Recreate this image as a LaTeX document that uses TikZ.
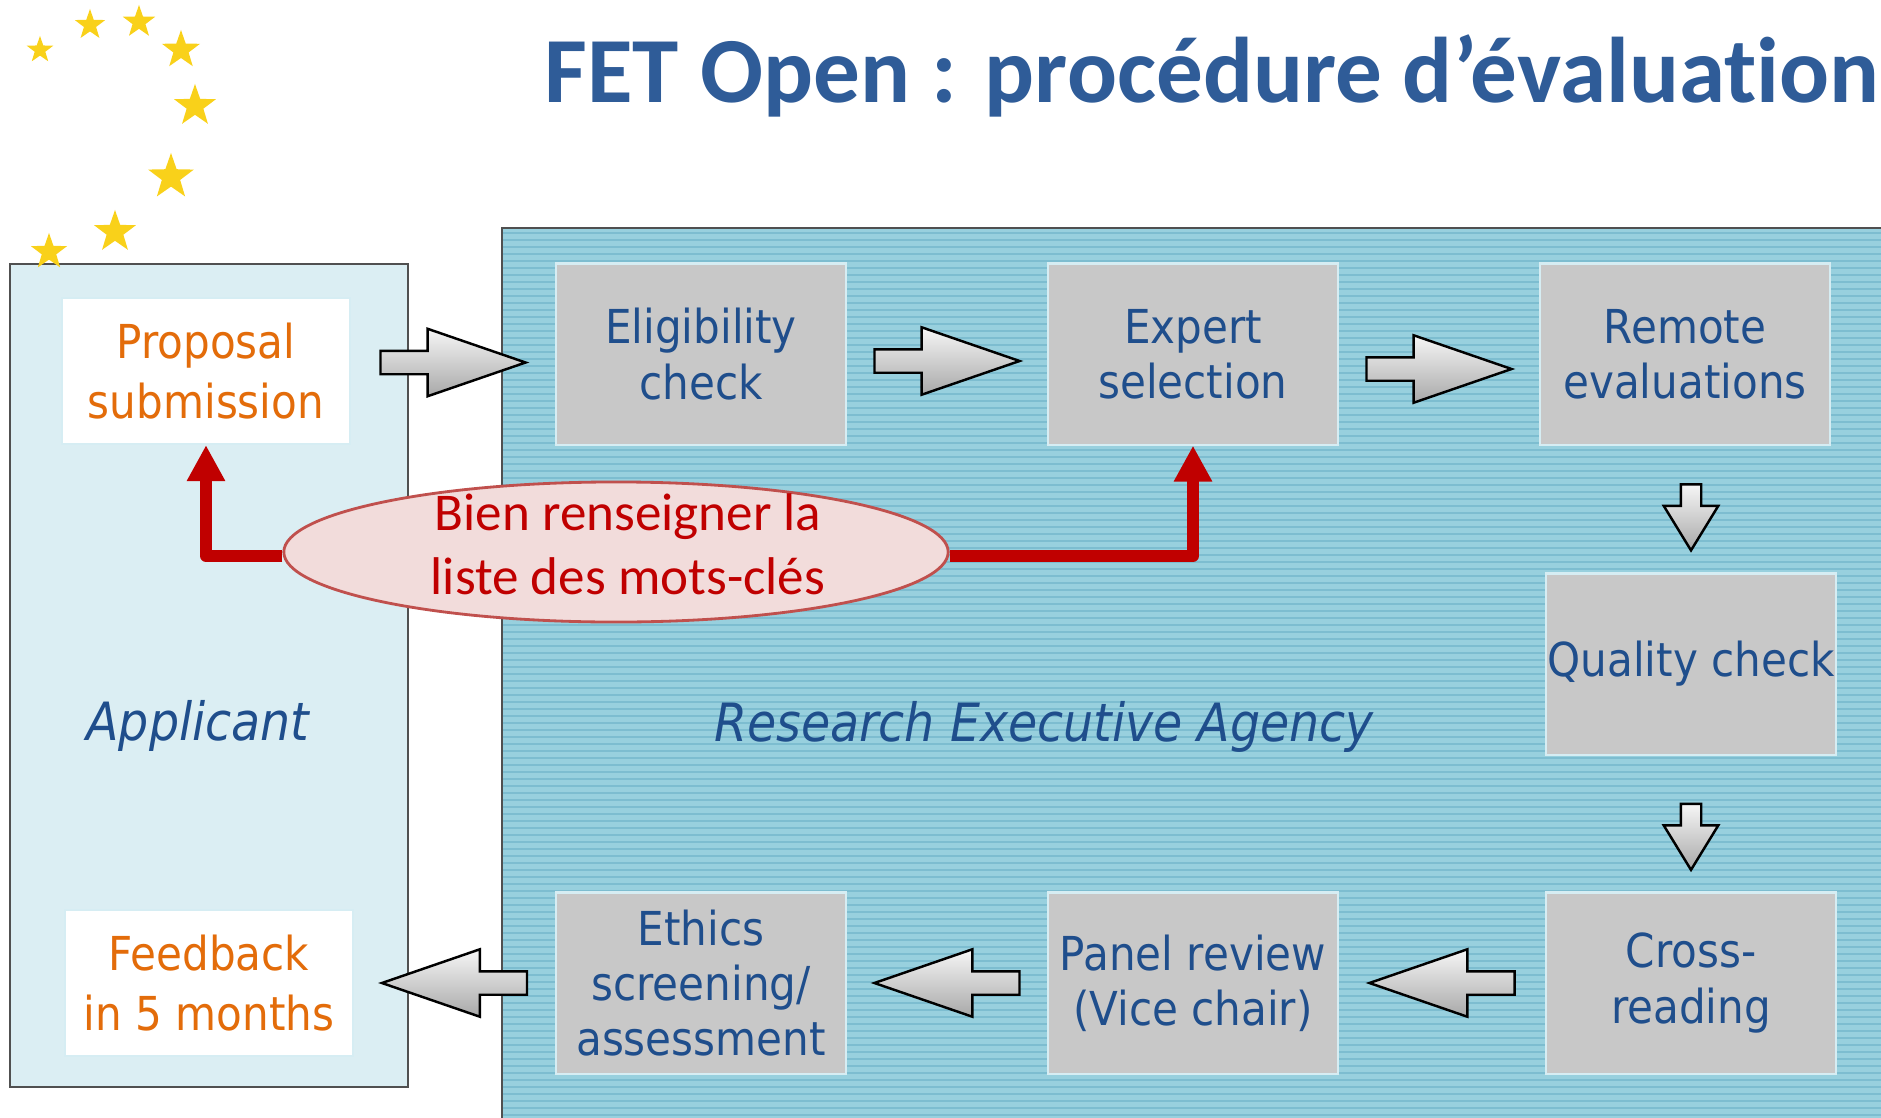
\documentclass[tikz,border=0pt]{standalone}
\usepackage{fontspec}
\usetikzlibrary{shapes.geometric,shapes.arrows,arrows.meta}
\newfontfamily\tahoma[FakeStretch=0.9]{DejaVu Sans}
\newfontfamily\calibri[Ligatures=NoCommon]{Carlito}
\definecolor{titleblue}{HTML}{2F5C98}
\definecolor{boxtext}{HTML}{1F4E8C}
\definecolor{applorange}{HTML}{E36C0A}
\definecolor{boxgray}{HTML}{C8C8C8}
\definecolor{boxedge}{HTML}{D6EDF3}
\definecolor{reafill}{HTML}{98D0DE}
\definecolor{reastripe}{HTML}{7DBDD0}
\definecolor{applfill}{HTML}{DBEEF3}
\definecolor{panelline}{HTML}{505050}
\definecolor{kwfill}{HTML}{F2DCDB}
\definecolor{kwline}{HTML}{C0504D}
\definecolor{kwred}{HTML}{C00000}
\definecolor{eustar}{HTML}{F9D11A}
\definecolor{arrowtop}{HTML}{F6F6F6}
\definecolor{arrowbot}{HTML}{A8A8A8}

\tikzset{
    procbox/.style={draw=boxedge, line width=0.6pt, fill=boxgray, minimum width=2.9cm, minimum height=1.81cm,
        inner sep=0pt, align=center, text=boxtext, font=\tahoma\fontsize{13.3}{15.7}\selectfont},
    applbox/.style={draw=boxedge, line width=0.6pt, fill=white, minimum width=2.88cm, minimum height=1.46cm,
        inner sep=0pt, align=center, text=applorange, font=\tahoma\fontsize{13.3}{17.1}\selectfont},
    blockarrow/.style={single arrow, draw=black, line width=0.7pt, top color=arrowtop, bottom color=arrowbot,
        inner sep=0.105cm, single arrow head extend=0.22cm, single arrow tip angle=38,
        single arrow head indent=0pt, minimum height=1.45cm},
    rarrow/.style={blockarrow, xshift=-0.17cm},
    larrow/.style={blockarrow, shape border rotate=180, xshift=0.17cm},
    darrow/.style={blockarrow, shape border rotate=270, inner sep=0.09cm, single arrow head extend=0.17cm,
        single arrow tip angle=63, minimum height=0.66cm},
    keyarrow/.style={draw=kwred, line width=3.4pt, line join=round, -{Triangle[length=0.36cm, width=0.36cm]}},
    eustarnode/.style={star, star points=5, star point ratio=2.5, fill=eustar, inner sep=0pt},
    sidelabel/.style={text=boxtext, font=\tahoma\itshape\fontsize{15}{18}\selectfont}
}

\begin{document}
\begin{tikzpicture}[x=0.01cm, y=-0.01cm]
    \useasboundingbox (0,0) rectangle (1881,1118);

    \fill[reafill] (502,228) rectangle (1881,1118);
    \foreach \y in {233,240,...,1118}
        \draw[reastripe, line width=0.45pt] (502,\y) -- (1881,\y);
    \draw[panelline, line width=0.6pt] (1881,228) -- (502,228) -- (502,1118);
    \draw[panelline, line width=0.6pt, fill=applfill] (10,264) rectangle (408,1087);

    \node[sidelabel] (appl) at (198,726) {Applicant};
    \node[sidelabel] (rea) at (1044,727) {Research Executive Agency};

    \node[applbox] (prop) at (206,371) {Proposal\\submission};
    \node[applbox] (feed) at (209,983) {Feedback\\in 5 months};
    \node[procbox] (elig) at (701,354) {Eligibility\\check};
    \node[procbox] (expert) at (1193,354) {Expert\\selection};
    \node[procbox] (remote) at (1685,354) {Remote\\evaluations};
    \node[procbox] (quality) at (1691,664) {Quality check};
    \node[procbox] (cross) at (1691,983) {Cross-\\reading};
    \node[procbox] (panel) at (1193,983) {Panel review\\(Vice chair)};
    \node[procbox] (ethics) at (701,983) {Ethics\\screening/\\assessment};

    \path (prop) -- node[rarrow] (a1) {} (elig);
    \path (elig) -- node[rarrow, yshift=-0.07cm] (a2) {} (expert);
    \path (expert) -- node[rarrow, yshift=-0.15cm] (a3) {} (remote);
    \path (remote) -- node[darrow, xshift=0.03cm] (a4) {} (quality);
    \path (quality) -- node[darrow, yshift=-0.05cm] (a5) {} (cross);
    \path (cross) -- node[larrow] (a6) {} (panel);
    \path (panel) -- node[larrow] (a7) {} (ethics);
    \path (ethics) -- node[larrow] (a8) {} (feed);

    \node[ellipse, draw=kwline, line width=0.8pt, fill=kwfill, minimum width=6.64cm, minimum height=1.4cm,
        inner sep=0pt] (kw) at (616,552) {};
    \node[align=center, text=kwred, font=\calibri\fontsize{15.1}{18.2}\selectfont]
        (kwtext) at (628,544) {Bien renseigner la\\liste des mots-clés};
    \draw[keyarrow] ([yshift=-0.04cm]kw.west) -| (prop.south);
    \draw[keyarrow] ([yshift=-0.04cm]kw.east) -| (expert.south);

    \foreach \x/\y/\r [count=\i] in {40/50/14, 90/25/16, 139/22/17, 181/50/20, 195/106/22, 171/177/24, 115/232/22, 49/252/19}
        \node[eustarnode, minimum size=\r*0.02cm] (s\i) at (\x,\y) {};

    \node[anchor=base west, inner sep=0pt, text=titleblue, font=\calibri\bfseries\fontsize{26.5}{30}\selectfont]
        (title) at (544,102) {FET Open : procédure d’évaluation};
\end{tikzpicture}
\end{document}
